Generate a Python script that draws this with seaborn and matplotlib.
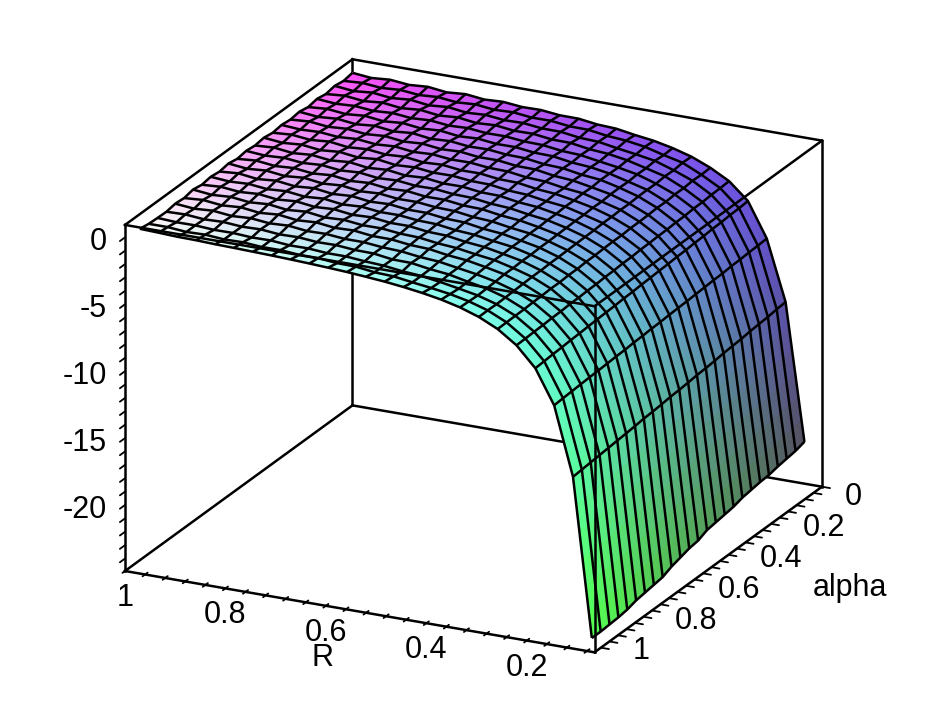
import numpy as np
import matplotlib
matplotlib.use('Agg')
import matplotlib.pyplot as plt
import seaborn as sns
from mpl_toolkits.mplot3d import proj3d

sns.set_theme(style='white', font='Liberation Sans')

# -- Data --
R_VALUES = [1.0, 0.9625, 0.925, 0.8875, 0.85, 0.8125, 0.775, 0.7375, 0.7, 0.6625, 0.625, 0.5875, 0.55,
            0.5125, 0.475, 0.4375, 0.4, 0.3625, 0.325, 0.2875, 0.25, 0.2125, 0.175, 0.1375, 0.1]
ALPHA_VALUES = [0.0, 0.0417, 0.0833, 0.125, 0.1667, 0.2083, 0.25, 0.2917, 0.3333, 0.375, 0.4167, 0.4583, 0.5,
                0.5417, 0.5833, 0.625, 0.6667, 0.7083, 0.75, 0.7917, 0.8333, 0.875, 0.9167, 0.9583, 1.0]
# one row per R value, one column per alpha value
Z_VALUES = [
    [-0.08,-0.20,-0.09,-0.22,-0.10,-0.23,-0.10,-0.20,-0.12,-0.22,-0.11,-0.21,-0.13,-0.24,-0.11,-0.23,-0.14,-0.25,-0.13,-0.28,-0.22,-0.34,-0.32,-0.28,-0.17],
    [-0.22,-0.11,-0.24,-0.10,-0.22,-0.12,-0.24,-0.10,-0.22,-0.12,-0.25,-0.12,-0.24,-0.13,-0.26,-0.12,-0.25,-0.16,-0.28,-0.18,-0.35,-0.30,-0.40,-0.28,-0.22],
    [-0.11,-0.24,-0.11,-0.26,-0.14,-0.27,-0.13,-0.25,-0.16,-0.27,-0.14,-0.29,-0.16,-0.29,-0.15,-0.30,-0.18,-0.30,-0.19,-0.34,-0.26,-0.42,-0.39,-0.40,-0.28],
    [-0.25,-0.14,-0.27,-0.13,-0.27,-0.15,-0.30,-0.16,-0.29,-0.15,-0.31,-0.18,-0.30,-0.20,-0.32,-0.18,-0.33,-0.21,-0.35,-0.24,-0.41,-0.37,-0.48,-0.36,-0.30],
    [-0.15,-0.28,-0.15,-0.30,-0.18,-0.32,-0.17,-0.31,-0.20,-0.33,-0.19,-0.35,-0.21,-0.36,-0.20,-0.36,-0.24,-0.38,-0.25,-0.41,-0.33,-0.48,-0.47,-0.47,-0.35],
    [-0.32,-0.19,-0.33,-0.18,-0.32,-0.20,-0.35,-0.21,-0.35,-0.23,-0.37,-0.23,-0.37,-0.25,-0.39,-0.25,-0.41,-0.27,-0.43,-0.30,-0.47,-0.44,-0.56,-0.44,-0.38],
    [-0.21,-0.34,-0.21,-0.36,-0.24,-0.37,-0.23,-0.38,-0.26,-0.39,-0.25,-0.42,-0.28,-0.43,-0.29,-0.44,-0.31,-0.45,-0.32,-0.48,-0.40,-0.57,-0.54,-0.55,-0.42],
    [-0.37,-0.25,-0.39,-0.26,-0.39,-0.28,-0.42,-0.29,-0.43,-0.31,-0.45,-0.32,-0.46,-0.34,-0.48,-0.35,-0.50,-0.37,-0.51,-0.39,-0.56,-0.54,-0.66,-0.54,-0.46],
    [-0.30,-0.41,-0.31,-0.44,-0.33,-0.46,-0.34,-0.46,-0.36,-0.49,-0.37,-0.51,-0.39,-0.52,-0.40,-0.53,-0.42,-0.55,-0.44,-0.56,-0.53,-0.66,-0.65,-0.65,-0.51],
    [-0.44,-0.35,-0.46,-0.36,-0.47,-0.39,-0.50,-0.40,-0.51,-0.42,-0.53,-0.43,-0.55,-0.45,-0.56,-0.47,-0.58,-0.49,-0.60,-0.51,-0.66,-0.64,-0.76,-0.65,-0.57],
    [-0.42,-0.51,-0.43,-0.53,-0.46,-0.55,-0.47,-0.57,-0.49,-0.59,-0.51,-0.61,-0.53,-0.63,-0.55,-0.64,-0.57,-0.66,-0.59,-0.68,-0.66,-0.76,-0.76,-0.78,-0.64],
    [-0.57,-0.50,-0.59,-0.51,-0.60,-0.54,-0.62,-0.56,-0.64,-0.58,-0.66,-0.60,-0.68,-0.62,-0.70,-0.64,-0.72,-0.66,-0.74,-0.69,-0.80,-0.78,-0.88,-0.80,-0.72],
    [-0.58,-0.67,-0.60,-0.69,-0.63,-0.71,-0.65,-0.74,-0.67,-0.76,-0.69,-0.78,-0.72,-0.80,-0.74,-0.82,-0.76,-0.84,-0.79,-0.86,-0.86,-0.98,-0.96,-0.98,-0.83],
    [-0.77,-0.69,-0.80,-0.71,-0.82,-0.74,-0.85,-0.76,-0.87,-0.79,-0.89,-0.81,-0.91,-0.84,-0.94,-0.86,-0.96,-0.89,-0.98,-0.92,-1.04,-1.00,-1.14,-1.04,-0.95],
    [-0.84,-0.90,-0.86,-0.93,-0.89,-0.96,-0.91,-0.99,-0.94,-1.01,-0.97,-1.04,-1.00,-1.06,-1.03,-1.09,-1.06,-1.11,-1.09,-1.14,-1.14,-1.22,-1.24,-1.24,-1.11],
    [-1.07,-1.01,-1.10,-1.04,-1.12,-1.07,-1.15,-1.10,-1.18,-1.13,-1.20,-1.16,-1.23,-1.19,-1.26,-1.22,-1.28,-1.25,-1.31,-1.28,-1.37,-1.37,-1.45,-1.42,-1.31],
    [-1.26,-1.23,-1.31,-1.27,-1.33,-1.30,-1.29,-1.36,-1.33,-1.38,-1.36,-1.42,-1.41,-1.45,-1.44,-1.49,-1.47,-1.52,-1.50,-1.54,-1.60,-1.67,-1.70,-1.63,-1.56],
    [-1.56,-1.60,-1.55,-1.62,-1.60,-1.66,-1.63,-1.64,-1.70,-1.68,-1.72,-1.71,-1.74,-1.76,-1.78,-1.78,-1.82,-1.81,-1.85,-1.84,-1.90,-1.94,-1.97,-1.93,-1.90],
    [-1.96,-1.93,-2.01,-1.98,-2.05,-2.03,-2.04,-2.09,-2.08,-2.12,-2.11,-2.16,-2.17,-2.19,-2.21,-2.23,-2.24,-2.27,-2.27,-2.30,-2.33,-2.36,-2.38,-2.36,-2.37],
    [-2.54,-2.58,-2.55,-2.62,-2.61,-2.67,-2.65,-2.69,-2.72,-2.72,-2.77,-2.76,-2.78,-2.82,-2.82,-2.87,-2.86,-2.91,-2.90,-2.94,-2.95,-2.99,-3.00,-3.01,-3.03],
    [-3.30,-3.34,-3.36,-3.42,-3.42,-3.48,-3.49,-3.54,-3.55,-3.59,-3.60,-3.66,-3.66,-3.71,-3.72,-3.77,-3.78,-3.82,-3.83,-3.88,-3.89,-3.93,-3.95,-3.98,-4.00],
    [-4.54,-4.60,-4.62,-4.68,-4.70,-4.75,-4.78,-4.83,-4.85,-4.90,-4.93,-4.97,-5.00,-5.05,-5.07,-5.12,-5.15,-5.18,-5.22,-5.27,-5.30,-5.35,-5.38,-5.43,-5.47],
    [-7.10,-7.15,-7.17,-7.22,-7.24,-7.30,-7.32,-7.36,-7.40,-7.44,-7.47,-7.50,-7.55,-7.57,-7.62,-7.64,-7.70,-7.72,-7.76,-7.80,-7.83,-7.87,-7.91,-7.95,-8.00],
    [-11.60,-11.66,-11.75,-11.80,-11.86,-11.95,-12.00,-12.05,-12.14,-12.20,-12.24,-12.32,-12.38,-12.42,-12.50,-12.56,-12.60,-12.68,-12.74,-12.80,-12.86,-12.92,-12.98,-13.04,-13.10],
    [-21.80,-22.00,-22.10,-22.20,-22.35,-22.40,-22.50,-22.60,-22.80,-22.90,-23.00,-23.10,-23.40,-23.50,-23.70,-23.90,-24.20,-24.30,-24.40,-24.50,-24.70,-24.80,-24.85,-24.90,-24.90],
]
R_TICK_LABELS = [1, 0.8, 0.6, 0.4, 0.2]
ALPHA_TICK_LABELS = [0, 0.2, 0.4, 0.6, 0.8, 1]
Z_TICK_LABELS = [0, -5, -10, -15, -20]

# -- Box --
R_LO, R_HI = 0.065, 1.0
A_LO, A_HI = 0.0, 1.07
Z_LO, Z_HI = -24.93, 0.93
W, H = 948, 711
FONT = 22


def surface_colors(r, a, z):
    red = 0.33 + 0.65 * (r - 0.1) / 0.9
    green = 0.32 + 0.68 * a
    blue = 0.27 + 0.73 * (z - Z_LO) / (Z_HI - Z_LO)
    return np.dstack([red, green, blue, np.ones_like(red)])


def subdivide(grid, n_r, n_a):
    # only for the colour gradient inside each mesh cell
    rows = np.arange(grid.shape[0])
    cols = np.arange(grid.shape[1])
    fine_rows = np.linspace(0, rows[-1], rows[-1] * n_r + 1)
    fine_cols = np.linspace(0, cols[-1], cols[-1] * n_a + 1)
    tmp = np.array([np.interp(fine_rows, rows, grid[:, c]) for c in cols]).T
    return np.array([np.interp(fine_cols, cols, row) for row in tmp])


def to_px(ax, r, a, z):
    x, y, _ = proj3d.proj_transform(r, a, z, ax.get_proj())
    return ax.transData.transform((x, y))


def fit_axes(ax, side, p1, p2):
    # scale and move the square axes until two box corners land where they should
    x0, y0 = 0.0, 0.0
    for _ in range(3):
        ax.set_position([x0 / W, y0 / H, side / W, side / H])
        fig.canvas.draw()
        a = to_px(ax, R_HI, A_HI, Z_LO)
        b = to_px(ax, R_LO, A_LO, Z_HI)
        scale = (p2[0] - p1[0]) / (b[0] - a[0])
        x0 = p1[0] - (a[0] - x0) * scale
        y0 = p1[1] - (a[1] - y0) * scale
        side *= scale
    ax.set_position([x0 / W, y0 / H, side / W, side / H])
    fig.canvas.draw()


def edge(ax, a, b, order):
    ax.plot([a[0], b[0]], [a[1], b[1]], [a[2], b[2]], color='black', lw=1.8,
            zorder=order, solid_capstyle='projecting')


def label(ax, r, a, z, text, dx, dy, ha):
    px, py = to_px(ax, r, a, z)
    fig.text((px + dx) / W, (py + dy) / H, text, ha=ha, va='center', fontsize=FONT,
             color='black', family='Liberation Sans')


fig = plt.figure(figsize=(W / 100, H / 100), dpi=100, facecolor='white')
ax = fig.add_axes([0, 0, 1, 1], projection='3d', proj_type='ortho', computed_zorder=False)
ax.view_init(elev=20.8, azim=116)
ax.set_box_aspect((523.5, 520, 371))
ax.set_xlim(R_LO, R_HI)
ax.set_ylim(A_LO, A_HI)
ax.set_zlim(Z_LO, Z_HI)
ax.set_axis_off()
ax.patch.set_alpha(0)

fit_axes(ax, 900.0, (125, H - 571), (822, H - 140))

X, Y = np.meshgrid(R_VALUES, ALPHA_VALUES, indexing='ij')
Z = np.array(Z_VALUES)

# box edges behind the surface
back = [((R_HI, A_LO, Z_LO), (R_HI, A_LO, Z_HI)),
        ((R_HI, A_LO, Z_LO), (R_HI, A_HI, Z_LO)),
        ((R_HI, A_LO, Z_LO), (R_LO, A_LO, Z_LO)),
        ((R_HI, A_LO, Z_HI), (R_LO, A_LO, Z_HI)),
        ((R_HI, A_LO, Z_HI), (R_HI, A_HI, Z_HI)),
        ((R_LO, A_LO, Z_LO), (R_LO, A_LO, Z_HI))]
for a, b in back:
    edge(ax, a, b, 1)

# smooth colours on a subdivided copy, the mesh itself on the real grid
Xf, Yf, Zf = subdivide(X, 6, 3), subdivide(Y, 6, 3), subdivide(Z, 6, 3)
ax.plot_surface(Xf, Yf, Zf, rstride=1, cstride=1, facecolors=surface_colors(Xf, Yf, Zf),
                shade=False, linewidth=0, antialiased=False, zorder=2)
ax.plot_wireframe(X, Y, Z, rstride=1, cstride=1, color='black', linewidth=1.8, zorder=2.5)

# box edges in front of it
front = [((R_HI, A_HI, Z_LO), (R_HI, A_HI, Z_HI)),
         ((R_HI, A_HI, Z_HI), (R_LO, A_HI, Z_HI)),
         ((R_LO, A_HI, Z_HI), (R_LO, A_LO, Z_HI)),
         ((R_LO, A_HI, Z_HI), (R_LO, A_HI, Z_LO)),
         ((R_HI, A_HI, Z_LO), (R_LO, A_HI, Z_LO)),
         ((R_LO, A_HI, Z_LO), (R_LO, A_LO, Z_LO))]
for a, b in front:
    edge(ax, a, b, 3)

# -- Ticks --
for r in np.arange(1.0, R_LO, -0.04):
    ax.plot([r, r], [A_HI - 0.012, A_HI + 0.012], [Z_LO, Z_LO], color='black', lw=1.3, zorder=3)
for a in np.arange(0.0, A_HI, 0.04):
    ax.plot([R_LO, R_LO - 0.016], [a, a], [Z_LO, Z_LO], color='black', lw=1.3, zorder=3)
for z in np.arange(0, -25, -1):
    ax.plot([R_HI, R_HI], [A_HI, A_HI + 0.024], [z, z], color='black', lw=1.3, zorder=3)

# -- Labels --
for v in R_TICK_LABELS:
    label(ax, v, A_HI, Z_LO, str(v), 0, -27, 'center')
for v in ALPHA_TICK_LABELS:
    label(ax, R_LO, v, Z_LO, str(v), 23, -10, 'left')
for v in Z_TICK_LABELS:
    label(ax, R_HI, A_HI, v, str(v), -18, -5, 'right')

fig.text(850 / W, 1 - 588 / H, 'alpha', ha='center', va='center', fontsize=FONT,
         color='black', family='Liberation Sans')
fig.text(323 / W, 1 - 658 / H, 'R', ha='center', va='center', fontsize=FONT,
         color='black', family='Liberation Sans')

fig.savefig('out.png', dpi=100, facecolor='white')
